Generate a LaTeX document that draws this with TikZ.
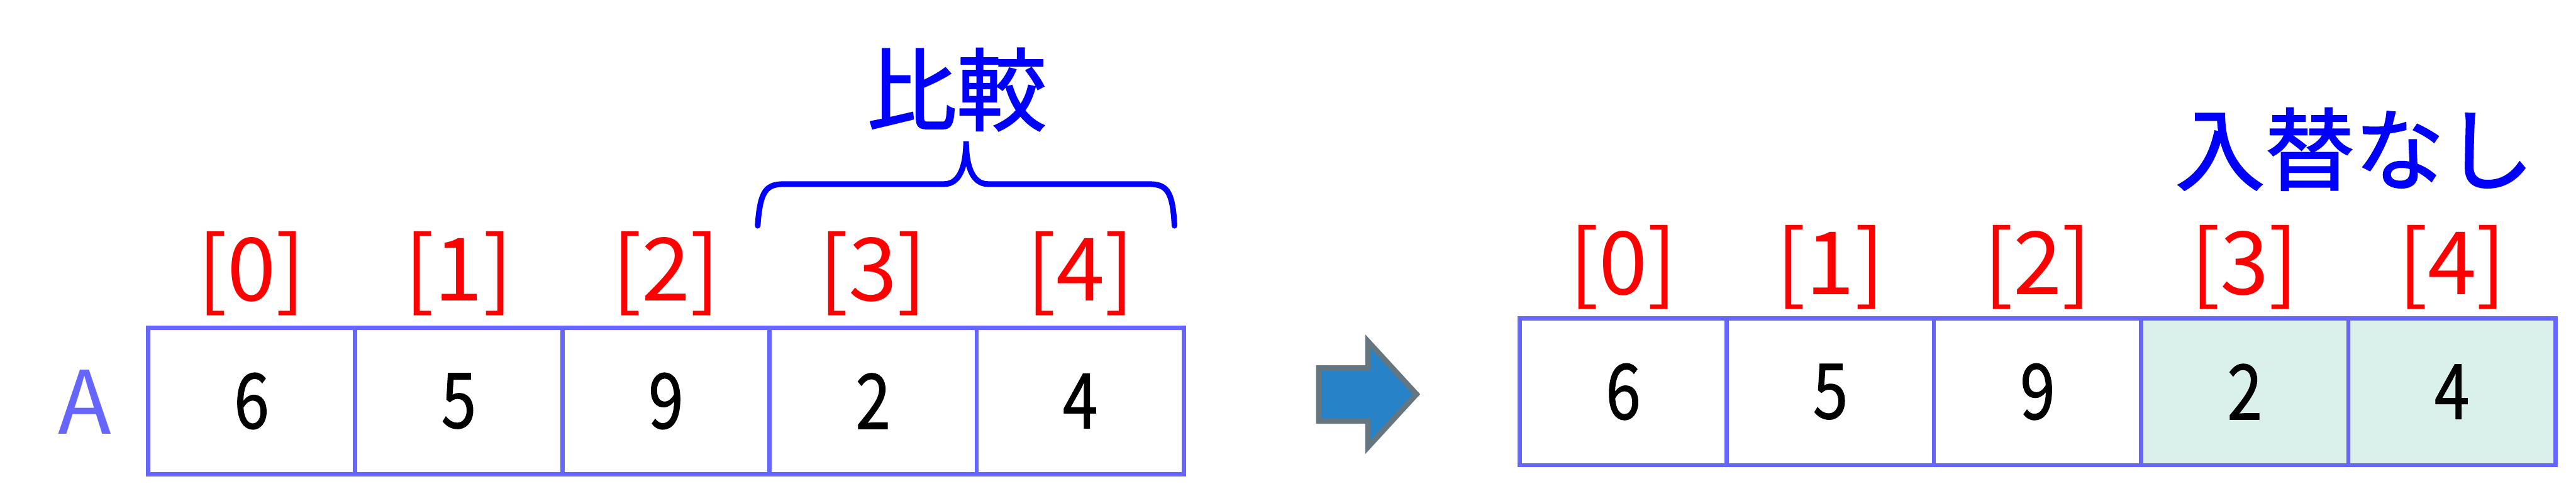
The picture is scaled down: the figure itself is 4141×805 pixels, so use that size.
\documentclass[tikz,border=0pt]{standalone}
\usepackage{fontspec}
\setmainfont{Noto Sans CJK JP}
\newfontfamily\digitfont[FakeStretch=0.82, FakeBold=1]{Noto Sans CJK JP}
\newfontfamily\notefont[FakeBold=1.6]{Noto Sans CJK JP}
\definecolor{cellline}{HTML}{6666FF}
\definecolor{idxred}{HTML}{FF0000}
\definecolor{noteblue}{HTML}{0000FF}
\definecolor{keptfill}{HTML}{DAF0EA}
\definecolor{arrowfill}{HTML}{2882C8}
\definecolor{arrowline}{HTML}{647680}

\begin{document}
\begin{tikzpicture}[x=0.01cm, y=-0.01cm,
		cell/.style={draw=cellline, line width=1.9pt, minimum width=3.33cm, minimum height=2.36cm, inner sep=0pt, font=\digitfont\fontsize{35}{42}\selectfont},
		idx/.style={text=idxred, font=\fontsize{40}{48}\selectfont},
		note/.style={text=noteblue, font=\notefont\fontsize{41}{48}\selectfont}]
		\useasboundingbox (0,0) rectangle (4141,805);
		% array A before the step
		\foreach \v [count=\i from 0] in {6,5,9,2,4}
		{
			\node[cell] (a\i) at (404.5+333*\i,645) {\v};
			\node[idx] (ia\i) at (404.5+333*\i,440) {[\i]};
		}
		\node[text=cellline, font=\fontsize{40}{48}\selectfont] (arrname) at (136,647) {A};
		% brace over the compared pair
		\draw[noteblue, line width=2.6pt, line cap=round]
			(1218,363) .. controls (1222,305) and (1232,296) .. (1262,296)
			-- (1518,296) .. controls (1545,296) and (1553,262) .. (1553,227)
			.. controls (1553,262) and (1561,296) .. (1588,296)
			-- (1845,296) .. controls (1875,296) and (1885,305) .. (1888,363);
		\node[note] (cmp) at (1538,144) {比較};
		% step arrow
		\draw[fill=arrowfill, draw=arrowline, line width=2.5pt]
			(2120,592) -- (2199,592) -- (2199,549) -- (2277,634) -- (2199,719) -- (2199,677) -- (2120,677) -- cycle;
		% array A after the step
		\foreach \v/\f [count=\i from 0] in {6/white,5/white,9/white,2/keptfill,4/keptfill}
		{
			\node[cell, fill=\f] (b\i) at (2609.5+333*\i,630) {\v};
			\node[idx] (ib\i) at (2609.5+333*\i,430) {[\i]};
		}
		\node[note] (noswap) at (3785,240) {入替なし};
	\end{tikzpicture}
\end{document}
